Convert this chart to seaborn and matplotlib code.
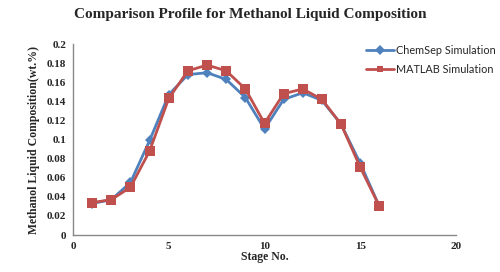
import pandas as pd
import seaborn as sns
import matplotlib.pyplot as plt

stages = [1, 2, 3, 4, 5, 6, 7, 8, 9, 10, 11, 12, 13, 14, 15, 16]
chemsep = [0.033, 0.037, 0.055, 0.099, 0.147, 0.168, 0.170, 0.163, 0.144,
           0.111, 0.142, 0.149, 0.141, 0.116, 0.075, 0.030]
matlab = [0.034, 0.037, 0.050, 0.088, 0.143, 0.172, 0.178, 0.172, 0.153,
          0.117, 0.148, 0.153, 0.142, 0.116, 0.071, 0.030]

df = pd.DataFrame({"Stage": stages * 2,
                   "Value": chemsep + matlab,
                   "Series": ["ChemSep Simulation"] * 16 + ["MATLAB Simulation"] * 16})

sns.set_style("white")
fig = plt.figure(figsize=(5, 2.72), dpi=100)
ax = fig.add_axes([0.146, 0.136, 0.766, 0.702])

palette = {"ChemSep Simulation": "#4F81BD", "MATLAB Simulation": "#C0504D"}
sns.lineplot(data=df, x="Stage", y="Value", hue="Series", style="Series",
             markers={"ChemSep Simulation": "D", "MATLAB Simulation": "s"},
             dashes=False, palette=palette, linewidth=2, markersize=5,
             markeredgewidth=0, ax=ax)
# bigger squares for the MATLAB series
ax.lines[1].set_markersize(7)

ax.set_xlim(0, 20)
ax.set_ylim(0, 0.2)
ax.set_xticks([0, 5, 10, 15, 20])
ax.set_yticks([0, 0.02, 0.04, 0.06, 0.08, 0.1, 0.12, 0.14, 0.16, 0.18, 0.2])
ax.set_yticklabels(["0", "0.02", "0.04", "0.06", "0.08", "0.1", "0.12",
                    "0.14", "0.16", "0.18", "0.2"])
for lab in ax.get_xticklabels() + ax.get_yticklabels():
    lab.set_fontfamily("Liberation Serif")
    lab.set_fontweight("bold")
    lab.set_fontsize(8)
ax.tick_params(length=0, pad=5)

for s in ["top", "right"]:
    ax.spines[s].set_visible(False)
for s in ["left", "bottom"]:
    ax.spines[s].set_color("#888888")
    ax.spines[s].set_linewidth(1)

ax.set_xlabel("Stage No.", fontfamily="Liberation Serif", fontweight="bold",
              fontsize=8.5, labelpad=0)
ax.set_ylabel("Methanol Liquid Composition(wt.%)", fontfamily="Liberation Serif",
              fontweight="bold", fontsize=8.5, labelpad=5)
fig.text(0.5, 0.945, "Comparison Profile for Methanol Liquid Composition",
         ha="center", va="center", fontfamily="Liberation Serif",
         fontweight="bold", fontsize=11)

leg = ax.legend(loc="upper left", bbox_to_anchor=(0.765, 0.995), frameon=False,
                prop={"family": "Lato", "size": 7.8}, handlelength=2.6,
                handletextpad=0.2, labelspacing=0.75, borderaxespad=0,
                borderpad=0)

plt.savefig("out.png", dpi=100)
